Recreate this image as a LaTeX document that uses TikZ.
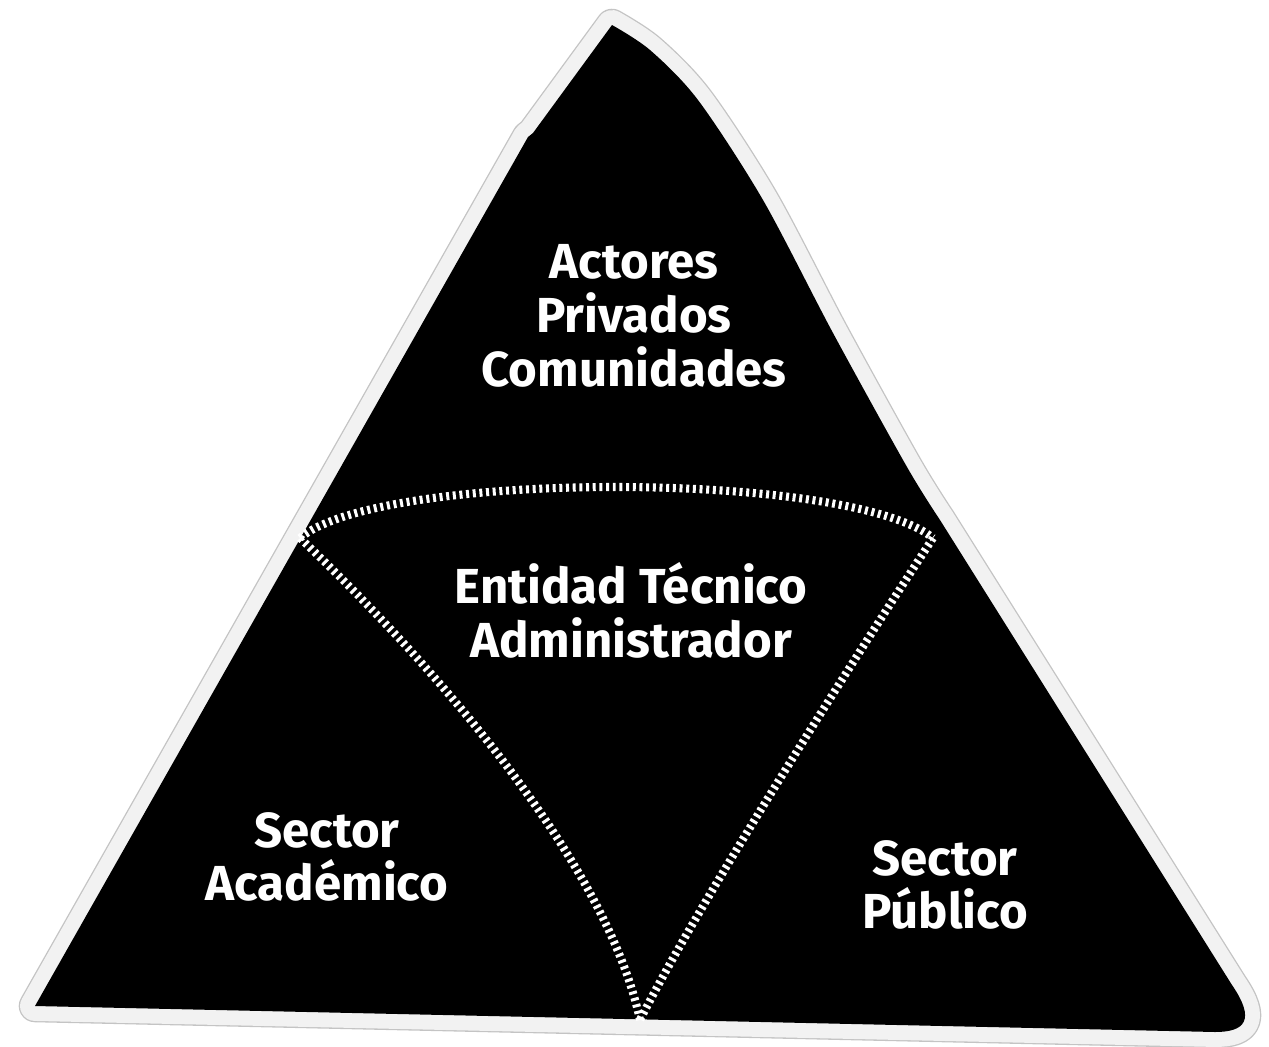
\documentclass[tikz,border=0pt]{standalone}
\usepackage{fontspec}
\setmainfont{Fira Sans}
\usepackage{tikz}
\usetikzlibrary{calc}

\definecolor{rand}{HTML}{F2F2F2}
\definecolor{randlinie}{HTML}{C4C4C4}

\tikzset{
	zone/.style={text=white, align=center, font=\bfseries\fontsize{28}{30.6}\selectfont},
	dotline/.style={draw=white, line width=4.6pt, dash pattern=on 1.7pt off 2.1pt}
}

\begin{document}
\begin{tikzpicture}[x=0.02cm, y=-0.02cm]
	\useasboundingbox (0,0) rectangle (1269,1046); % Rand um Grafik
	
	% Berg mit hellem Rand
	\fill[black,
		preaction={draw=randlinie, line width=18.5pt, line join=round},
		preaction={draw=rand, line width=17pt, line join=round}]
		(35,1006) -- (528,137) -- (533,133) -- (612,25)
		-- plot[smooth, tension=0.5] coordinates {(612,25) (650,50) (698,100) (763,200) (833,333) (907,467) (940,520)}
		-- (1232,985)
		.. controls (1256,1020) and (1245,1032) .. (1215,1032)
		-- cycle;
	
	\coordinate (jl) at (300,538);
	\coordinate (jr) at (933,538);
	\coordinate (jb) at (640,1020);
	
	\draw[dotline] (jl) .. controls (380,470) and (850,470) .. (jr);
	\draw[dotline] (jl) .. controls (470,700) and (610,880) .. (jb);
	\draw[dotline] (jr) .. controls (860,650) and (700,900) .. (jb);
	
	\node[zone] (actores) at (634,316) {Actores\\Privados\\Comunidades};
	\node[zone] (entidad) at (631,610) {Entidad Técnico\\Administrador};
	\node[zone] (academico) at (327,857) {Sector\\Académico};
	\node[zone] (publico) at (945,885) {Sector\\Público};
	
	%\draw[help lines, step=100] (0,0) grid (1269,1046);
\end{tikzpicture}
\end{document}
